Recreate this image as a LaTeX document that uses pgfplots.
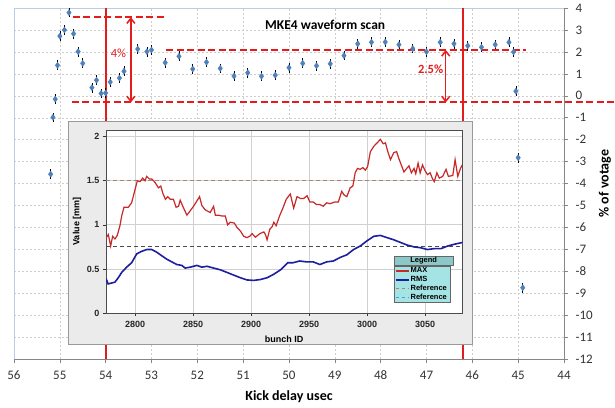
\documentclass[border=0pt]{standalone}
\usepackage{fontspec}
\setmainfont{Carlito}
\newfontfamily\insetfont{Liberation Sans}
\usepackage{pgfplots}
\usepackage{pgfplotstable}
\pgfplotsset{compat=1.18}
\usetikzlibrary{arrows.meta}
\definecolor{ptblue}{RGB}{79,129,189}
\definecolor{annred}{RGB}{228,28,28}
\definecolor{gridgray}{RGB}{205,205,205}
\definecolor{frameblue}{RGB}{185,205,229}
\definecolor{axgray}{RGB}{134,134,134}
\definecolor{maxred}{RGB}{200,40,40}
\definecolor{rmsblue}{RGB}{30,30,160}
\definecolor{refbrown}{RGB}{165,135,115}
\definecolor{refblue}{RGB}{70,160,220}
\definecolor{legcyan}{RGB}{165,228,228}
\definecolor{leghead}{RGB}{140,200,200}

\pgfplotstableread{
x y
55.2 -3.57
55.15 -0.98
55.1 -0.15
55.05 1.39
55.0 2.72
54.9 3.0
54.8 3.79
54.7 2.83
54.6 2.01
54.5 1.48
54.3 0.37
54.2 0.71
54.1 0.11
54.0 0.13
53.9 0.63
53.7 0.81
53.6 1.12
53.3 2.13
53.1 2.01
53.0 2.09
52.7 1.51
52.4 1.80
52.1 1.22
51.8 1.53
51.5 1.25
51.2 0.90
50.9 1.05
50.6 0.89
50.3 0.94
50.0 1.28
49.7 1.48
49.4 1.37
49.1 1.46
48.8 1.83
48.5 2.37
48.2 2.44
47.9 2.45
47.6 2.33
47.3 2.15
47.0 2.01
46.7 2.44
46.4 2.37
46.1 2.28
45.8 2.21
45.5 2.33
45.2 2.44
45.1 2.0
45.05 0.21
45.0 -2.82
44.9 -8.74
}\scan

\pgfplotstableread{
x y
2775 0.85
2777 0.89
2779 0.76
2780.7 0.87
2782.7 0.84
2784.7 0.88
2787 0.99
2788.5 1.10
2790.5 1.20
2794.2 1.20
2797.1 1.25
2800 1.40
2802 1.50
2804.3 1.49
2806.6 1.53
2808.6 1.50
2810.1 1.55
2812.4 1.52
2814.4 1.52
2817.3 1.48
2820.2 1.42
2822.2 1.44
2823.9 1.36
2826.2 1.29
2828.2 1.32
2830.3 1.29
2833.1 1.29
2835.4 1.20
2837.5 1.21
2838.9 1.28
2841.2 1.21
2844.7 1.11
2847 1.15
2850.4 1.21
2855.6 1.32
2857.6 1.22
2860.5 1.17
2864.8 1.14
2867.7 1.21
2869.2 1.11
2872 1.11
2874.9 1.10
2877.8 1.10
2879.8 1.00
2882.1 1.03
2885.6 1.02
2887.9 0.97
2890.8 0.93
2893.7 0.87
2896.5 0.855
2898.8 0.87
2900.9 0.90
2903.7 0.86
2907.5 0.90
2911 0.92
2912.4 0.89
2913.8 0.83
2916.1 0.95
2918.2 0.98
2919.6 1.03
2921.6 0.99
2924.5 1.10
2927.4 1.19
2930.3 1.29
2933.8 1.35
2936.7 1.19
2939.6 1.32
2942.5 1.30
2945.4 1.30
2948.3 1.33
2950.6 1.26
2953.5 1.26
2956.4 1.23
2959.3 1.23
2962.2 1.21
2965.1 1.25
2968 1.24
2972.3 1.26
2975.2 1.26
2978.1 1.38
2980.1 1.34
2982.5 1.32
2985.4 1.42
2987.7 1.44
2989.7 1.59
2991.7 1.64
2994.1 1.63
2996.4 1.65
2998.4 1.62
3000.4 1.66
3002.8 1.83
3005.7 1.89
3008.6 1.93
3011.4 1.97
3013.8 1.92
3015.8 1.93
3017.8 1.83
3020.1 1.74
3023 1.82
3025.4 1.83
3027.4 1.75
3029.4 1.68
3031.7 1.60
3034.1 1.64
3036.1 1.67
3038.1 1.59
3040.4 1.64
3041.9 1.58
3043.9 1.70
3045.7 1.59
3047.7 1.68
3049.7 1.62
3052 1.57
3054.3 1.59
3056.4 1.52
3057.8 1.49
3060.1 1.59
3062.2 1.53
3065.1 1.55
3068 1.63
3070 1.55
3073.8 1.56
3075.8 1.74
3078.1 1.55
3080.4 1.64
3082 1.68
}\maxdata

\pgfplotstableread{
x y
2775 0.39
2776.9 0.33
2779.8 0.34
2782.7 0.35
2785.6 0.40
2788.5 0.46
2792.8 0.52
2797.1 0.57
2801.4 0.67
2805.8 0.70
2810.1 0.72
2814.4 0.72
2818.7 0.69
2823 0.65
2827.4 0.61
2831.7 0.58
2836 0.55
2840.3 0.54
2843.2 0.51
2847.6 0.52
2853.3 0.54
2857.6 0.52
2862 0.53
2867.7 0.51
2873.5 0.49
2879.3 0.46
2885 0.43
2890.8 0.40
2896.5 0.375
2902.3 0.37
2908.1 0.38
2913.8 0.40
2919.6 0.44
2925.4 0.49
2931.7 0.57
2936.1 0.57
2941.9 0.59
2947.7 0.58
2953.5 0.58
2959.3 0.55
2965.1 0.58
2970.9 0.59
2976.7 0.63
2982.5 0.66
2988.3 0.72
2994.1 0.76
3000 0.82
3005.7 0.87
3011.4 0.88
3017.2 0.855
3023 0.83
3028.8 0.80
3034.6 0.77
3040.4 0.75
3046.2 0.74
3052 0.72
3057.8 0.73
3063.6 0.73
3069.4 0.76
3075.2 0.78
3082 0.80
}\rmsdata

\begin{document}
\begin{tikzpicture}
\begin{axis}[
  scale only axis, width=550pt, height=351.3pt,
  xmin=44, xmax=56, ymin=-12, ymax=4, x dir=reverse,
  xtick={44,...,56}, ytick={-12,...,4},
  xtick pos=bottom, ytick pos=right, yticklabel pos=right,
  tick align=outside, major tick length=4pt,
  tick style={axgray, line width=0.6pt},
  axis line style={draw=none},
  grid=major,
  major grid style={gridgray, dash pattern=on 2pt off 2pt, line width=0.5pt},
  ticklabel style={font=\fontsize{13}{13}\selectfont, text=black!80},
  /pgf/number format/assume math mode=true,
  xticklabel style={yshift=-4pt},
  yticklabel style={xshift=4pt},
  xlabel={Kick delay usec}, ylabel={\% of votage},
  every axis x label/.style={at={(axis description cs:0.5,-0.1073)}, anchor=center, font=\bfseries\fontsize{14}{14}\selectfont},
  every axis y label/.style={at={(axis description cs:1.0745,0.5)}, anchor=center, rotate=90, font=\bfseries\fontsize{14}{14}\selectfont},
  clip=false,
]
% frame
\draw[frameblue, line width=0.8pt] (axis description cs:0,0) -- (axis description cs:0,1) -- (axis description cs:1,1);
\draw[axgray, line width=0.8pt] (axis description cs:0,0) -- (axis description cs:1,0) -- (axis description cs:1,1);
% red annotation lines
\addplot[annred, line width=1.8pt] coordinates {(54,-12) (54,4)};
\addplot[annred, line width=1.8pt] coordinates {(46.2,-12) (46.2,4)};
\addplot[annred, line width=2pt, dash pattern=on 7pt off 3.5pt] coordinates {(54.72,3.58) (52.73,3.58)};
\addplot[annred, line width=2pt, dash pattern=on 7pt off 3.5pt] coordinates {(54.74,-0.3) (42.9,-0.3)};
\addplot[annred, line width=2pt, dash pattern=on 7pt off 3.5pt] coordinates {(52.68,2.09) (44.83,2.09)};
\addplot[annred, line width=1.5pt, <->, >={Straight Barb[length=5pt,width=8pt]}] coordinates {(53.45,-0.3) (53.45,3.58)};
\addplot[annred, line width=1.5pt, <->, >={Straight Barb[length=5pt,width=8pt]}] coordinates {(46.58,-0.3) (46.58,2.09)};
\node[text=annred, font=\fontsize{12.5}{12.5}\selectfont] at (axis cs:53.72,1.96) {4\%};
\node[text=annred, font=\bfseries\fontsize{12.5}{12.5}\selectfont] at (axis cs:46.91,1.21) {2.5\%};
\node[font=\bfseries\fontsize{13.5}{13.5}\selectfont] at (axis cs:49.21,3.23) {MKE4 waveform scan};
% data
\addplot[only marks, mark=diamond*, mark size=3pt, mark options={fill=ptblue, draw=ptblue},
  error bars/.cd, y dir=both, y fixed=0.22, error mark=none,
  error bar style={black, line width=0.6pt}] table[x=x, y=y] {\scan};
\end{axis}

% inset panel
\filldraw[fill=black!8, draw=black!40, line width=1pt] (54pt,15.3pt) rectangle (458pt,237.3pt);

\begin{axis}[
  at={(92pt,46.3pt)}, anchor=south west,
  scale only axis, width=356.3pt, height=183pt,
  xmin=2775, xmax=3082, ymin=0, ymax=2.076,
  xtick={2800,2850,...,3050}, ytick={0,0.5,1,1.5,2},
  grid=major, major grid style={black!18, line width=0.8pt},
  axis background/.style={fill=white},
  axis line style={black!70, line width=0.9pt},
  tick align=outside, major tick length=3pt, xtick pos=bottom, ytick pos=left,
  tick style={black!80, line width=0.6pt},
  ticklabel style={font=\insetfont\bfseries\fontsize{9}{9}\selectfont, text=black!85},
  /pgf/number format/assume math mode=true,
  /pgf/number format/1000 sep={},
  xticklabel style={yshift=-2pt},
  xlabel={bunch ID}, ylabel={Value [mm]},
  every axis x label/.style={at={(axis description cs:0.5,-0.1437)}, anchor=center, font=\insetfont\bfseries\fontsize{9}{9}\selectfont},
  every axis y label/.style={at={(axis description cs:-0.0814,0.5)}, anchor=center, rotate=90, font=\insetfont\bfseries\fontsize{9}{9}\selectfont},
  legend style={at={(axis description cs:0.8083,0.2568)}, anchor=north west, fill=legcyan, draw=black!60, line width=0.6pt,
    font=\insetfont\bfseries\fontsize{7.5}{8}\selectfont, inner xsep=0.5pt, inner ysep=0.5pt, nodes={inner sep=1pt}},
  legend cell align=left,
  legend image code/.code={\draw[#1] (0pt,0pt) -- (13pt,0pt);},
]
\addplot[refbrown, line width=0.8pt, dash pattern=on 4pt off 3pt, forget plot] coordinates {(2775,1.5) (3082,1.5)};
\addplot[black!70, line width=0.8pt, dash pattern=on 4pt off 3pt, forget plot] coordinates {(2775,0.75) (3082,0.75)};
\addplot[maxred, line width=1.2pt, forget plot] table[x=x, y=y] {\maxdata};
\addplot[rmsblue, line width=1.6pt, forget plot] table[x=x, y=y] {\rmsdata};
\addlegendimage{color=maxred, draw=maxred, line width=1.4pt}
\addlegendentry{\makebox[38.5pt][l]{MAX}}
\addlegendimage{color=rmsblue, draw=rmsblue, line width=1.8pt}
\addlegendentry{\makebox[38.5pt][l]{RMS}}
\addlegendimage{color=refbrown, draw=refbrown, line width=1.1pt, dash pattern=on 3pt off 3pt}
\addlegendentry{\makebox[38.5pt][l]{Reference}}
\addlegendimage{color=refblue, draw=refblue, line width=1.1pt, dash pattern=on 3pt off 3pt}
\addlegendentry{\makebox[38.5pt][l]{Reference}}
\end{axis}
\node[draw=black!60, fill=leghead, line width=0.6pt, anchor=south west, minimum width=58.7pt, minimum height=9.5pt, inner sep=0pt,
  font=\insetfont\bfseries\fontsize{7.5}{8}\selectfont] at (380pt,93.3pt) {Legend};

\pgfresetboundingbox
\useasboundingbox (-14pt,-47.7pt) rectangle (601pt,359.3pt);
\end{tikzpicture}
\end{document}
